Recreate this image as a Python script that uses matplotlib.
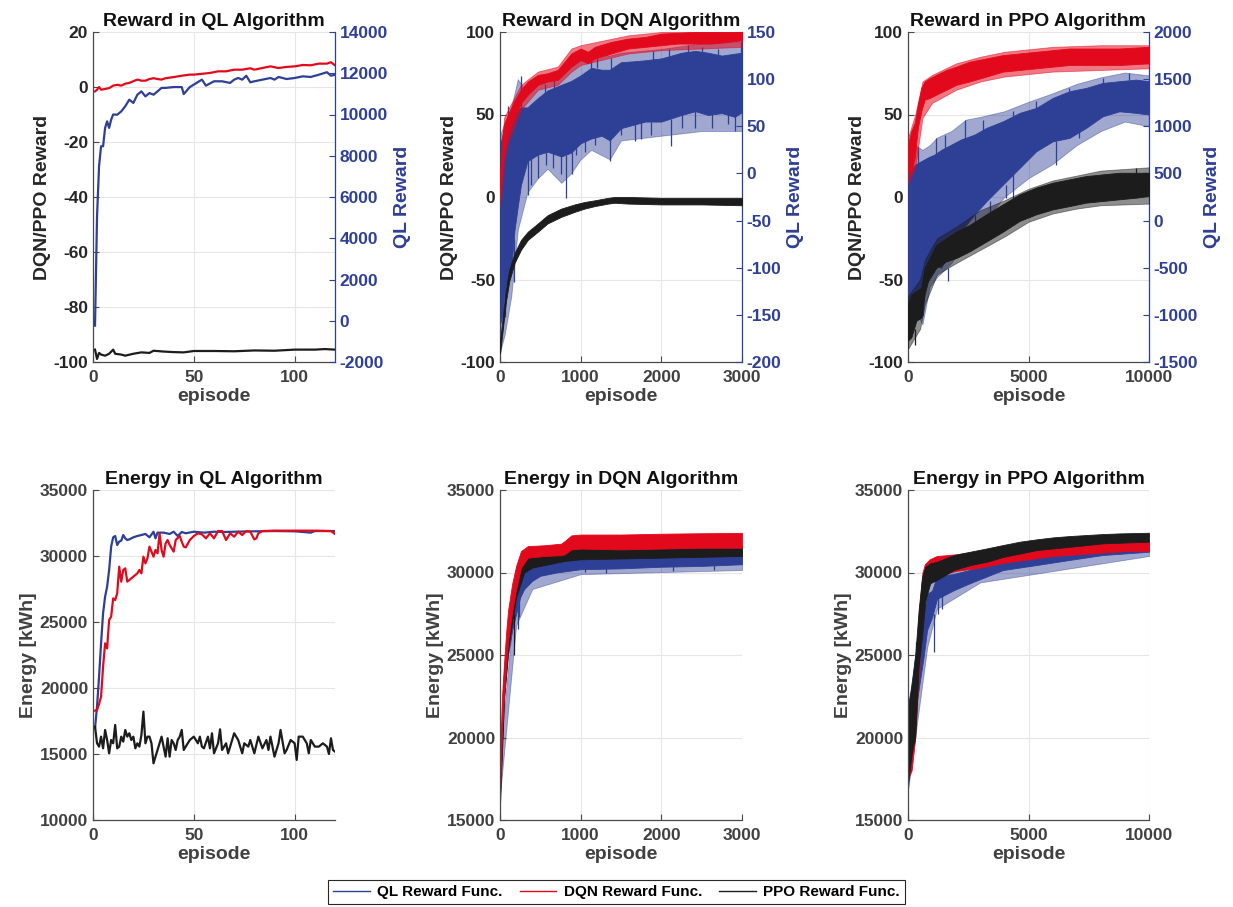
import matplotlib
matplotlib.use('Agg')
import matplotlib.pyplot as plt
from matplotlib.lines import Line2D

plt.rcParams['font.family'] = ['Liberation Sans', 'DejaVu Sans']
plt.rcParams['font.weight'] = 'bold'
plt.rcParams['axes.unicode_minus'] = False

BLUE = '#2E3F96'
RED = '#E3091C'
BLACK = '#1C1C1C'
DARK = '#262626'
GRAY = '#404040'
GRID = '#E6E6E6'

# ---------------- QL reward (episodes 1..120) ----------------
ql_r_blue_ep = [1, 2, 3, 4, 5, 6, 7, 8, 9, 10, 12, 14, 16, 18, 20, 22, 24, 26, 28, 30, 32, 34, 36, 40, 44,
                45, 48, 50, 54, 56, 60, 64, 68, 70, 72, 74, 76, 78, 80, 84, 88, 90, 92, 96, 100, 104, 108,
                112, 116, 118, 120]
ql_r_blue = [-237, 5063, 7490, 8460, 8460, 9350, 9670, 9350, 9750, 10000, 9990, 10150, 10400, 10720, 10560,
             10960, 11120, 10880, 11040, 10960, 11120, 11290, 11290, 11330, 11330, 10990, 11330, 11450, 11690,
             11400, 11610, 11610, 11530, 11690, 11770, 11690, 11880, 11560, 11610, 11690, 11770, 11690, 11820,
             11720, 11770, 11850, 11820, 11930, 12050, 11880, 11930]
ql_r_red_ep = [1, 2, 3, 4, 6, 8, 10, 12, 14, 16, 18, 20, 22, 24, 26, 28, 30, 32, 34, 36, 40, 44, 48, 50, 54,
               58, 62, 66, 70, 74, 78, 80, 84, 88, 92, 96, 100, 104, 108, 112, 116, 118, 120]
ql_r_red = [-1.6, -1.0, 0.0, -1.0, -0.7, -0.4, 0.5, 0.8, 0.5, 1.2, 1.5, 2.1, 2.7, 2.3, 2.3, 2.9, 3.2, 2.9, 2.7,
            3.2, 3.6, 4.1, 4.5, 4.5, 4.8, 5.1, 5.7, 5.7, 6.3, 6.3, 6.8, 6.3, 6.9, 7.5, 6.9, 7.3, 7.5, 8.0, 7.9,
            8.5, 8.5, 9.0, 7.9]
ql_r_black_ep = [1, 2, 3, 4, 6, 8, 10, 11, 14, 16, 20, 24, 28, 30, 35, 40, 45, 50, 60, 70, 80, 90, 100, 110,
                 115, 120]
ql_r_black = [-95.5, -98.9, -96.7, -97.3, -97.7, -97.0, -95.5, -97.0, -97.3, -97.7, -97.0, -96.5, -96.7,
              -95.9, -96.2, -96.4, -96.5, -96.0, -96.0, -96.1, -95.8, -95.9, -95.5, -95.5, -95.3, -95.5]

# ---------------- QL energy ----------------
ql_e_blue_ep = [1, 2, 3, 4, 5, 6, 7, 8, 9, 10, 11, 12, 13, 14, 15, 16, 17, 18, 20, 22, 24, 26, 28, 30, 31, 32,
                35, 38, 40, 42, 44, 46, 50, 55, 60, 65, 70, 80, 90, 100, 108, 110, 120]
ql_e_blue = [16950, 18590, 20860, 23385, 25660, 26920, 27680, 28940, 30710, 31415, 31515, 30830, 31090, 31160,
             31590, 31340, 31210, 31260, 31415, 31515, 31590, 31670, 31415, 31840, 31340, 31770, 31770, 31670,
             31840, 31515, 31820, 31720, 31840, 31770, 31840, 31820, 31840, 31870, 31890, 31870, 31770, 31890,
             31890]
ql_e_red_ep = [1, 2, 3, 4, 5, 6, 7, 8, 9, 10, 11, 12, 13, 14, 15, 16, 17, 18, 20, 22, 23, 24, 25, 26, 27, 28,
               30, 31, 32, 33, 34, 35, 36, 37, 38, 40, 41, 43, 44, 45, 46, 48, 50, 52, 54, 56, 58, 60, 62, 64,
               66, 68, 70, 72, 74, 76, 78, 80, 81, 82, 84, 90, 100, 110, 118, 120]
ql_e_red = [18285, 18330, 18790, 19345, 21620, 23385, 23000, 25150, 25405, 26790, 26660, 27170, 29190, 28055,
            28940, 29065, 28055, 28180, 28435, 28690, 28940, 28690, 29950, 29445, 29820, 30710, 29950, 30455,
            30200, 31715, 30455, 29950, 30960, 31210, 30835, 30330, 31210, 31515, 31085, 30710, 30655, 31210,
            31515, 31720, 31640, 31340, 31720, 31340, 31890, 31890, 31210, 31720, 31465, 31840, 31590, 31890,
            31840, 31260, 31340, 31720, 31890, 31920, 31920, 31920, 31890, 31665]
ql_e_black_ep = [1, 2, 3, 4, 5, 6, 7, 8, 9, 10, 11, 12, 13, 14, 15, 16, 17, 18, 19, 20, 21, 22, 23, 24, 25,
                 26, 27, 28, 29, 30, 31, 32, 33, 34, 35, 36, 37, 38, 39, 40, 41, 42, 43, 44, 45, 46, 47, 48,
                 50, 52, 53, 54, 55, 57, 58, 59, 60, 62, 63, 64, 66, 67, 69, 70, 72, 74, 75, 77, 78, 80, 82,
                 84, 86, 87, 88, 90, 92, 93, 95, 96, 98, 100, 101, 102, 104, 106, 107, 108, 110, 112, 114,
                 116, 117, 118, 119, 120]
ql_e_black = [17070, 15810, 15560, 16315, 15430, 16820, 16060, 15050, 16060, 15810, 17200, 15430, 15560,
              16315, 15935, 16820, 16315, 16570, 16060, 16315, 15430, 15810, 15560, 16440, 18210, 15810,
              16315, 16315, 15810, 14295, 14800, 15305, 15810, 16315, 15560, 14800, 16190, 14800, 16060,
              15810, 15305, 16060, 16315, 16820, 15305, 15560, 15810, 16060, 16315, 15810, 16315, 15560,
              15430, 16315, 15430, 16570, 15050, 15810, 16870, 15305, 15810, 15050, 16060, 16570, 16060,
              15050, 15810, 15560, 16060, 15050, 16315, 15430, 16060, 15305, 16315, 14800, 15810, 16820,
              15050, 15305, 16060, 15810, 14550, 16315, 16315, 15810, 15050, 16060, 15560, 15560, 15810,
              15560, 15000, 16190, 15305, 15180]

# ---------------- DQN reward: dense core / outer extent of the noisy traces ----------------
dqn_r_red_ep = [0, 25, 50, 100, 175, 260, 345, 470, 590, 715, 800, 885, 1000, 1090, 1175, 1380, 1590, 1800,
                2000, 2200, 2420, 2620, 2830, 3000]
dqn_r_red_lo = [0, 15, 28, 38, 48, 57, 62, 68, 70, 71, 75, 79, 83, 81, 84, 87, 90, 91, 92, 93, 93, 93, 94, 95]
dqn_r_red_hi = [10, 35, 44, 50, 58, 65, 70, 74, 75, 77, 82, 87, 90, 88, 91, 94, 96, 97, 99, 99.5, 100, 100,
                100, 100]
dqn_r_red_out_ep = [0, 50, 100, 260, 470, 715, 885, 1000, 1590, 2000, 3000]
dqn_r_red_out_lo = [-5, 22, 33, 53, 65, 68, 76, 80, 87, 89, 91]
dqn_r_red_out_hi = [15, 48, 53, 68, 76, 79, 90, 92, 98, 100, 100]

dqn_r_black_ep = [0, 35, 75, 115, 180, 260, 345, 470, 590, 760, 925, 1050, 1175, 1340, 1420, 1590, 2000,
                  2500, 3000]
dqn_r_black_lo = [-95, -80, -63, -51, -40, -32, -26, -21, -16, -12, -9, -7, -5.5, -4, -3.5, -4, -4.5, -4.5, -5]
dqn_r_black_hi = [-88, -72, -55, -44, -34, -26, -21, -16, -11, -7, -4.5, -3, -2, -0.5, 0, 0, -0.5, -0.5, -0.5]

dqn_r_blue_ep = [0, 30, 60, 100, 140, 180, 220, 260, 340, 470, 590, 760, 880, 1000, 1130, 1260, 1360, 1500,
                 1670, 1800, 2000, 2250, 2420, 2580, 2750, 2910, 3000]
dqn_r_blue_lo = [-160, -150, -120, -115, -100, -60, -35, -12, 13, 20, 23, 18, 22, 32, 37, 40, 35, 48, 52, 55,
                 55, 62, 66, 62, 64, 60, 65]
dqn_r_blue_hi = [30, 40, 50, 55, 60, 62, 68, 70, 70, 80, 88, 94, 98, 104, 112, 110, 110, 118, 119, 120, 122,
                 128, 130, 128, 125, 127, 128]
dqn_r_blue_out_ep = [0, 60, 140, 220, 340, 470, 590, 760, 880, 1000, 1130, 1360, 1500, 2000, 2500, 3000]
dqn_r_blue_out_lo = [-190, -170, -130, -60, -20, -5, 5, -10, 0, 15, 25, 15, 35, 40, 45, 45]
dqn_r_blue_out_hi = [40, 55, 70, 100, 85, 95, 105, 110, 115, 120, 128, 125, 128, 132, 138, 140]
dqn_r_blue_sp_ep = [66, 95, 170, 255, 344, 385, 468, 560, 570, 655, 675, 760, 820, 890, 945, 1050, 1130, 1173,
                    1200, 1360, 1380, 1504, 1670, 1753, 1877, 1900, 2100, 2126, 2250, 2330, 2416, 2500, 2623,
                    2700, 2830, 2914, 2990]
dqn_r_blue_sp_lo = [-152, 50, -115, 65, -23, -12, -5, 80, 9, 6, 88, -1, -26, -1, 20, 23, 110, 30, 112, 13,
                    110, 41, 34, 37, 41, 120, 122, 29, 48, 128, 48, 128, 48, 125, 52, 45, 125]
dqn_r_blue_sp_hi = [-100, 71, -70, 103, 15, 18, 22, 95, 25, 25, 105, 20, 20, 25, 30, 35, 128, 40, 122, 40,
                    122, 50, 52, 55, 55, 130, 132, 58, 62, 136, 66, 134, 64, 132, 64, 62, 140]

# ---------------- PPO reward ----------------
ppo_r_red_ep = [0, 140, 280, 410, 550, 690, 900, 1170, 1590, 2000, 2550, 3250, 3940, 4630, 5320, 6010, 6700,
                7390, 8080, 8770, 10000]
ppo_r_red_lo = [14, 16, 24, 42, 52, 59, 60, 62, 65, 68, 70, 73, 76, 77, 78, 79, 80, 80, 80, 80, 81]
ppo_r_red_hi = [32, 40, 45, 56, 66, 70, 72, 74, 77, 79, 82, 84, 86, 87, 88, 89, 90, 90, 90, 90, 91]
ppo_r_red_out_ep = [0, 300, 600, 1000, 2000, 3000, 4000, 6000, 8000, 10000]
ppo_r_red_out_lo = [8, 18, 48, 57, 65, 70, 73, 76, 77, 78]
ppo_r_red_out_hi = [36, 50, 70, 74, 81, 85, 88, 91, 92, 92]

ppo_r_black_ep = [0, 140, 345, 550, 690, 830, 1170, 1590, 2000, 2550, 3250, 3940, 4630, 5320, 6010, 6700,
                  7390, 8080, 8770, 9460, 10000]
ppo_r_black_lo = [-87, -85, -75, -73, -59, -51, -43, -39, -37, -33, -27, -21, -14.5, -10.5, -7.5, -5.5, -3.4,
                  -2.4, -1.4, -0.4, 0.6]
ppo_r_black_hi = [-65, -59, -57, -55, -43, -39, -29, -25, -21, -17, -10.5, -4.4, 1.6, 5.7, 8.7, 10.7, 12.7,
                  13.7, 14.7, 14.7, 14.7]
ppo_r_black_out_ep = [0, 500, 700, 1200, 2000, 3000, 4000, 5000, 6000, 7000, 8000, 10000]
ppo_r_black_out_lo = [-92, -80, -65, -47, -40, -32, -24, -15, -10, -7, -5, -4]
ppo_r_black_out_hi = [-60, -50, -38, -25, -18, -8, -2, 5, 10, 13, 16, 18]

ppo_r_blue_ep = [0, 140, 340, 550, 620, 690, 830, 1100, 1380, 1800, 2200, 2760, 3250, 3940, 4630, 5320, 6010,
                 6700, 7390, 8080, 8770, 9460, 10000]
ppo_r_blue_lo = [-1000, -790, -870, -1030, -1000, -660, -570, -470, -500, -290, -113, 64, 205, 382, 558, 735,
                 841, 877, 983, 1106, 1159, 1142, 1124]
ppo_r_blue_hi = [450, 560, 600, 630, 640, 650, 670, 700, 750, 806, 860, 912, 983, 1053, 1142, 1195, 1301,
                 1372, 1407, 1460, 1478, 1495, 1478]
ppo_r_blue_out_ep = [0, 300, 600, 900, 1200, 1800, 2400, 3000, 4000, 5000, 6000, 7000, 8000, 9000, 10000]
ppo_r_blue_out_lo = [-1100, -950, -1100, -700, -600, -450, -200, -50, 250, 450, 600, 800, 950, 1050, 1000]
ppo_r_blue_out_hi = [550, 800, 750, 800, 880, 950, 1070, 1100, 1160, 1260, 1350, 1450, 1520, 1570, 1540]
ppo_r_blue_sp_ep = [400, 1174, 1520, 1650, 2350, 2762, 3110, 3385, 4075, 4350, 4350, 5300, 6150, 6700, 7110,
                    8080, 9185]
ppo_r_blue_sp_lo = [600, 700, 750, -640, 860, -78, 950, 64, 240, 1100, 134, 1195, 594, 1372, 877, 1460, 1490]
ppo_r_blue_sp_hi = [780, 877, 912, -500, 1071, 64, 1071, 205, 382, 1160, 500, 1266, 841, 1407, 983, 1513, 1566]
ppo_r_black_sp_ep = [300, 9460]
ppo_r_black_sp_lo = [-90, 14.7]
ppo_r_black_sp_hi = [-80, 17.8]

# ---------------- DQN energy ----------------
dqn_e_red_ep = [0, 25, 50, 75, 100, 150, 200, 260, 345, 550, 760, 800, 885, 1000, 1500, 2000, 2500, 3000]
dqn_e_red_lo = [16500, 20500, 22500, 24300, 25800, 27600, 29000, 30300, 30900, 31000, 31050, 31100, 31400,
                31450, 31400, 31450, 31500, 31500]
dqn_e_red_hi = [18800, 22500, 24500, 26300, 27700, 29300, 30400, 31300, 31600, 31650, 31750, 31900, 32250,
                32300, 32300, 32350, 32380, 32400]

dqn_e_black_ep = [0, 50, 100, 150, 200, 300, 400, 600, 800, 1000, 2000, 3000]
dqn_e_black_lo = [15900, 22300, 25300, 27000, 28500, 30000, 30300, 30500, 30700, 30800, 30900, 31000]
dqn_e_black_hi = [18200, 24000, 27000, 28900, 30000, 31000, 31200, 31300, 31450, 31500, 31550, 31600]
dqn_e_black_sp_ep = [170]
dqn_e_black_sp_lo = [25000]
dqn_e_black_sp_hi = [27500]

dqn_e_blue_ep = [0, 50, 100, 150, 200, 250, 300, 400, 500, 700, 1000, 1500, 2000, 2500, 3000]
dqn_e_blue_lo = [17000, 22500, 25000, 26500, 27500, 28500, 29000, 29500, 29800, 30000, 30200, 30250, 30350,
                 30400, 30500]
dqn_e_blue_hi = [18500, 24000, 26500, 28000, 29000, 29800, 30200, 30500, 30700, 30900, 31000, 31050, 31200,
                 31250, 31350]
dqn_e_blue_out_ep = [0, 200, 400, 1000, 3000]
dqn_e_blue_out_lo = [16500, 26800, 29000, 29900, 30150]
dqn_e_blue_out_hi = [19000, 29400, 30800, 31200, 31500]
dqn_e_blue_sp_ep = [220, 240, 1050, 1320, 2150, 2650]
dqn_e_blue_sp_lo = [26600, 27300, 30050, 30000, 30100, 30150]
dqn_e_blue_sp_hi = [28000, 28500, 30300, 30400, 30400, 30500]

# ---------------- PPO energy ----------------
ppo_e_black_ep = [0, 170, 300, 440, 580, 720, 920, 1200, 1900, 2580, 3270, 3960, 4650, 5340, 6030, 6720, 7400,
                  8100, 8790, 10000]
ppo_e_black_lo = [17200, 19200, 20000, 24300, 26100, 28300, 29350, 29550, 30150, 30450, 30650, 30950, 31150,
                  31360, 31460, 31560, 31660, 31770, 31800, 31870]
ppo_e_black_hi = [21900, 23300, 25000, 27700, 29700, 30350, 30550, 30650, 31060, 31260, 31460, 31670, 31870,
                  32010, 32130, 32210, 32270, 32330, 32370, 32410]
ppo_e_black_sp_ep = [330]
ppo_e_black_sp_lo = [24000]
ppo_e_black_sp_hi = [25800]

ppo_e_red_ep = [0, 150, 300, 450, 600, 700, 900, 1200, 2000, 3000, 4000, 5000, 6000, 7000, 8000, 9000, 10000]
ppo_e_red_lo = [17500, 18000, 20000, 24000, 27000, 29000, 29500, 29800, 30100, 30300, 30600, 30800, 31000,
                31100, 31200, 31300, 31300]
ppo_e_red_hi = [21500, 22000, 24000, 27500, 30000, 30500, 30800, 31000, 31100, 31300, 31500, 31600, 31650,
                31700, 31800, 31800, 31900]

ppo_e_blue_ep = [0, 150, 300, 450, 650, 790, 1000, 1200, 1860, 2550, 3940, 5320, 6700, 8080, 10000]
ppo_e_blue_lo = [17000, 19500, 21500, 23000, 24900, 26500, 27300, 28400, 28900, 29340, 30150, 30450, 30760,
                 31060, 31260]
ppo_e_blue_hi = [21000, 23300, 25000, 26000, 27300, 28700, 28900, 29800, 29900, 30150, 30860, 31060, 31360,
                 31570, 31670]
ppo_e_blue_out_ep = [0, 800, 1200, 3000, 10000]
ppo_e_blue_out_lo = [16800, 25500, 27800, 29400, 31000]
ppo_e_blue_out_hi = [22000, 29000, 30000, 30600, 31800]
ppo_e_blue_sp_ep = [1064, 1250, 1400]
ppo_e_blue_sp_lo = [25200, 27500, 27800]
ppo_e_blue_sp_hi = [27500, 28500, 28800]

legend_labels = ['QL Reward Func.', 'DQN Reward Func.', 'PPO Reward Func.']

# ---------------- layout helpers ----------------
W, H = 1233, 907
fig = plt.figure(figsize=(W / 100, H / 100), dpi=100)


def rect(l, t, r, b):
    return [l / W, 1 - b / H, (r - l) / W, (b - t) / H]


def style_base(ax, xlim, xticks, ylim, yticks, tick_color):
    ax.set_xlim(xlim)
    ax.set_xticks(xticks)
    ax.set_ylim(ylim)
    ax.set_yticks(yticks)
    ax.grid(True, color=GRID, lw=0.8)
    ax.set_axisbelow(True)
    for s in ('top', 'right'):
        ax.spines[s].set_visible(False)
    for s in ('left', 'bottom'):
        ax.spines[s].set_color('#4a4a4a')
        ax.spines[s].set_linewidth(0.9)
    ax.tick_params(axis='both', direction='in', length=4, width=0.8, color='#4a4a4a', labelsize=12.5)
    ax.tick_params(axis='x', labelcolor=GRAY, pad=6)
    ax.tick_params(axis='y', labelcolor=tick_color)
    for lab in ax.get_xticklabels() + ax.get_yticklabels():
        lab.set_fontweight('bold')
    ax.set_xlabel('episode', fontsize=14, fontweight='bold', color=GRAY, labelpad=2)


def band(ax, ep, lo, hi, color, alpha=1.0):
    ax.fill_between(ep, lo, hi, color=color, lw=0.6, edgecolor=color, alpha=alpha)


def spikes(ax, sp, color):
    ax.vlines(sp[0], sp[1], sp[2], color=color, lw=0.9)


def reward_axes(pos, xlim, xticks, ylim_l, yticks_l, ylim_r, yticks_r, title):
    ax = fig.add_axes(pos)
    style_base(ax, xlim, xticks, ylim_l, yticks_l, DARK)
    ax.set_ylabel('DQN/PPO Reward', fontsize=14, fontweight='bold', color=DARK, labelpad=2)
    ax.set_title(title, fontsize=14, fontweight='bold', color='#111111', pad=4)
    axb = ax.twinx()
    axb.set_ylim(ylim_r)
    axb.set_yticks(yticks_r)
    for s in ('top', 'left', 'bottom'):
        axb.spines[s].set_visible(False)
    axb.spines['right'].set_color(BLUE)
    axb.spines['right'].set_linewidth(0.9)
    axb.tick_params(axis='y', direction='in', length=4, width=0.8, color=BLUE, labelcolor=BLUE,
                    labelsize=12.5)
    for lab in axb.get_yticklabels():
        lab.set_fontweight('bold')
    axb.set_ylabel('QL Reward', fontsize=14, fontweight='bold', color=BLUE, labelpad=4)
    axt = ax.twinx()
    axt.set_ylim(ylim_l)
    axt.yaxis.set_visible(False)
    for s in axt.spines.values():
        s.set_visible(False)
    return ax, axb, axt


def energy_axes(pos, xlim, xticks, ylim, yticks, title):
    ax = fig.add_axes(pos)
    style_base(ax, xlim, xticks, ylim, yticks, GRAY)
    ax.set_ylabel('Energy [kWh]', fontsize=14, fontweight='bold', color=GRAY, labelpad=2)
    ax.set_title(title, fontsize=14, fontweight='bold', color='#111111', pad=4)
    return ax


# ---------------- top row: rewards ----------------
ax, axb, axt = reward_axes(rect(93, 32, 335, 362), (0, 120), [0, 50, 100], (-100, 20),
                           list(range(-100, 21, 20)), (-2000, 14000), list(range(-2000, 14001, 2000)),
                           'Reward in QL Algorithm')
axb.plot(ql_r_blue_ep, ql_r_blue, color=BLUE, lw=1.6)
axt.plot(ql_r_red_ep, ql_r_red, color=RED, lw=1.6)
axt.plot(ql_r_black_ep, ql_r_black, color=BLACK, lw=1.6)

ax, axb, axt = reward_axes(rect(500, 32, 742, 362), (0, 3000), [0, 1000, 2000, 3000], (-100, 100),
                           list(range(-100, 101, 50)), (-200, 150), list(range(-200, 151, 50)),
                           'Reward in DQN Algorithm')
band(axb, dqn_r_blue_out_ep, dqn_r_blue_out_lo, dqn_r_blue_out_hi, BLUE, 0.45)
band(axb, dqn_r_blue_ep, dqn_r_blue_lo, dqn_r_blue_hi, BLUE)
spikes(axb, (dqn_r_blue_sp_ep, dqn_r_blue_sp_lo, dqn_r_blue_sp_hi), BLUE)
band(axt, dqn_r_red_out_ep, dqn_r_red_out_lo, dqn_r_red_out_hi, RED, 0.55)
band(axt, dqn_r_red_ep, dqn_r_red_lo, dqn_r_red_hi, RED)
band(axt, dqn_r_black_ep, dqn_r_black_lo, dqn_r_black_hi, BLACK)

ax, axb, axt = reward_axes(rect(908, 32, 1149, 362), (0, 10000), [0, 5000, 10000], (-100, 100),
                           list(range(-100, 101, 50)), (-1500, 2000), list(range(-1500, 2001, 500)),
                           'Reward in PPO Algorithm')
band(axb, ppo_r_blue_out_ep, ppo_r_blue_out_lo, ppo_r_blue_out_hi, BLUE, 0.45)
band(axb, ppo_r_blue_ep, ppo_r_blue_lo, ppo_r_blue_hi, BLUE)
spikes(axb, (ppo_r_blue_sp_ep, ppo_r_blue_sp_lo, ppo_r_blue_sp_hi), BLUE)
band(axt, ppo_r_red_out_ep, ppo_r_red_out_lo, ppo_r_red_out_hi, RED, 0.55)
band(axt, ppo_r_red_ep, ppo_r_red_lo, ppo_r_red_hi, RED)
band(axt, ppo_r_black_out_ep, ppo_r_black_out_lo, ppo_r_black_out_hi, BLACK, 0.5)
band(axt, ppo_r_black_ep, ppo_r_black_lo, ppo_r_black_hi, BLACK)
spikes(axt, (ppo_r_black_sp_ep, ppo_r_black_sp_lo, ppo_r_black_sp_hi), BLACK)

# ---------------- bottom row: energy ----------------
ax = energy_axes(rect(93, 490, 335, 820), (0, 120), [0, 50, 100], (10000, 35000),
                 list(range(10000, 35001, 5000)), 'Energy in QL Algorithm')
ax.plot(ql_e_blue_ep, ql_e_blue, color=BLUE, lw=1.6)
ax.plot(ql_e_red_ep, ql_e_red, color=RED, lw=1.6)
ax.plot(ql_e_black_ep, ql_e_black, color=BLACK, lw=1.6)

ax = energy_axes(rect(500, 490, 742, 820), (0, 3000), [0, 1000, 2000, 3000], (15000, 35000),
                 list(range(15000, 35001, 5000)), 'Energy in DQN Algorithm')
band(ax, dqn_e_blue_out_ep, dqn_e_blue_out_lo, dqn_e_blue_out_hi, BLUE, 0.45)
band(ax, dqn_e_blue_ep, dqn_e_blue_lo, dqn_e_blue_hi, BLUE)
spikes(ax, (dqn_e_blue_sp_ep, dqn_e_blue_sp_lo, dqn_e_blue_sp_hi), BLUE)
band(ax, dqn_e_black_ep, dqn_e_black_lo, dqn_e_black_hi, BLACK)
spikes(ax, (dqn_e_black_sp_ep, dqn_e_black_sp_lo, dqn_e_black_sp_hi), BLACK)
band(ax, dqn_e_red_ep, dqn_e_red_lo, dqn_e_red_hi, RED)

ax = energy_axes(rect(908, 490, 1149, 820), (0, 10000), [0, 5000, 10000], (15000, 35000),
                 list(range(15000, 35001, 5000)), 'Energy in PPO Algorithm')
band(ax, ppo_e_blue_out_ep, ppo_e_blue_out_lo, ppo_e_blue_out_hi, BLUE, 0.45)
band(ax, ppo_e_blue_ep, ppo_e_blue_lo, ppo_e_blue_hi, BLUE)
spikes(ax, (ppo_e_blue_sp_ep, ppo_e_blue_sp_lo, ppo_e_blue_sp_hi), BLUE)
band(ax, ppo_e_red_ep, ppo_e_red_lo, ppo_e_red_hi, RED)
band(ax, ppo_e_black_ep, ppo_e_black_lo, ppo_e_black_hi, BLACK)
spikes(ax, (ppo_e_black_sp_ep, ppo_e_black_sp_lo, ppo_e_black_sp_hi), BLACK)

# ---------------- legend ----------------
handles = [Line2D([], [], color=c, lw=1.0) for c in (BLUE, RED, BLACK)]
leg = fig.legend(handles, legend_labels, loc='center', bbox_to_anchor=(0.5, 0.0165), ncol=3,
                 frameon=True, fancybox=False, edgecolor=DARK, framealpha=1,
                 prop={'weight': 'bold', 'size': 11}, handlelength=2.4, handletextpad=0.5,
                 columnspacing=1.1, borderpad=0.35)
leg.get_frame().set_linewidth(0.8)

fig.savefig('out.png', dpi=100)
